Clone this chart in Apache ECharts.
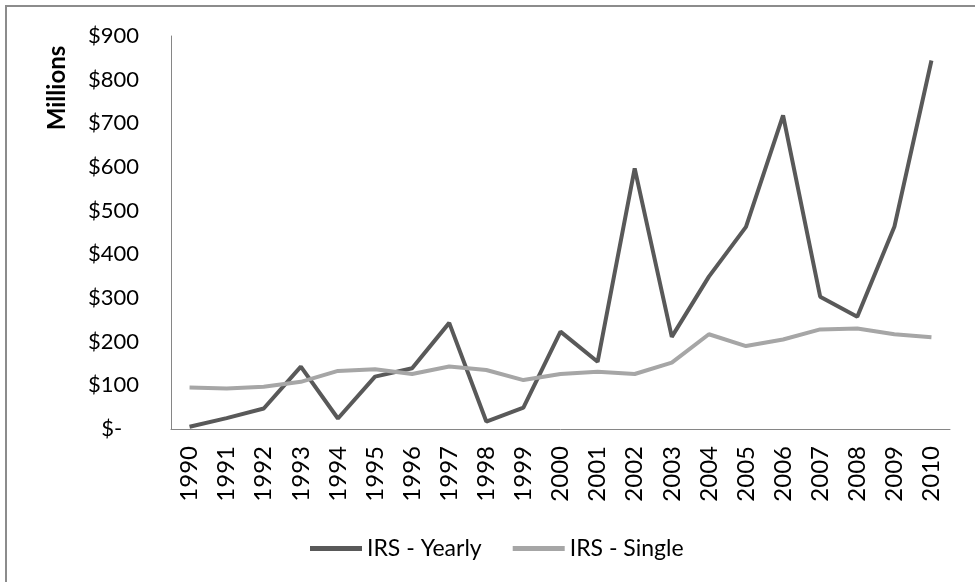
<!DOCTYPE html>
<html>
<head>
<meta charset="utf-8">
<script src="https://cdn.jsdelivr.net/npm/echarts@6/dist/echarts.min.js"></script>
<style>
  html, body { margin: 0; padding: 0; background: #fff; }
  #chart { width: 975px; height: 582px; }
</style>
</head>
<body>
<div id="chart"></div>
<script>
var years = ['1990', '1991', '1992', '1993', '1994', '1995', '1996', '1997', '1998', '1999', '2000',
    '2001', '2002', '2003', '2004', '2005', '2006', '2007', '2008', '2009', '2010'];
var irsYearly = [5, 25, 47, 143, 24, 120, 139, 243, 17, 49, 223,
    154, 597, 211, 349, 463, 718, 303, 257, 463, 844];
var irsSingle = [95, 93, 97, 108, 133, 137, 126, 143, 135, 112, 126,
    131, 126, 152, 217, 190, 205, 228, 230, 217, 210];
var yTicks = [0, 100, 200, 300, 400, 500, 600, 700, 800, 900];

var font = 'Lato';
var myChart = echarts.init(document.getElementById('chart'));

var option = {
    backgroundColor: '#fff',
    animation: false,
    color: ['#595959', '#a6a6a6'],
    textStyle: { fontFamily: font },
    graphic: [
        {
            type: 'rect',
            shape: { x: 6, y: 6, width: 1000, height: 620 },
            style: { fill: 'none', stroke: '#8c8c8c', lineWidth: 2 }
        },
        {
            type: 'text',
            x: 57, y: 88,
            rotation: Math.PI / 2,
            style: {
                text: 'Millions', fontFamily: font, fontSize: 24, fontWeight: 'bold',
                fill: '#000', align: 'center', verticalAlign: 'middle'
            }
        }
    ],
    grid: { left: 171, right: 25, top: 36, bottom: 153 },
    legend: {
        left: 305,
        top: 532,
        icon: 'rect',
        itemWidth: 52,
        itemHeight: 5,
        itemGap: 31,
        textStyle: { fontFamily: font, fontSize: 23, color: '#000' },
        data: ['IRS - Yearly', 'IRS - Single']
    },
    xAxis: {
        type: 'category',
        data: years,
        axisLine: { lineStyle: { color: '#868686', width: 1 } },
        axisTick: { show: false },
        axisLabel: { rotate: 90, margin: 17, fontFamily: font, fontSize: 24, color: '#000' }
    },
    yAxis: {
        type: 'value',
        min: yTicks[0],
        max: yTicks[yTicks.length - 1],
        interval: 100,
        splitLine: { show: false },
        axisLine: { show: true, lineStyle: { color: '#868686', width: 1 } },
        axisTick: { show: false },
        axisLabel: {
            margin: 32, fontFamily: font, fontSize: 22, color: '#000',
            formatter: function (v) { return v === 0 ? '$-   ' : '$' + v; }
        }
    },
    series: [
        {
            name: 'IRS - Yearly',
            type: 'line',
            data: irsYearly,
            showSymbol: false,
            lineStyle: { width: 4, color: '#595959' }
        },
        {
            name: 'IRS - Single',
            type: 'line',
            data: irsSingle,
            showSymbol: false,
            lineStyle: { width: 4, color: '#a6a6a6' }
        }
    ]
};

myChart.setOption(option);
</script>
</body>
</html>
